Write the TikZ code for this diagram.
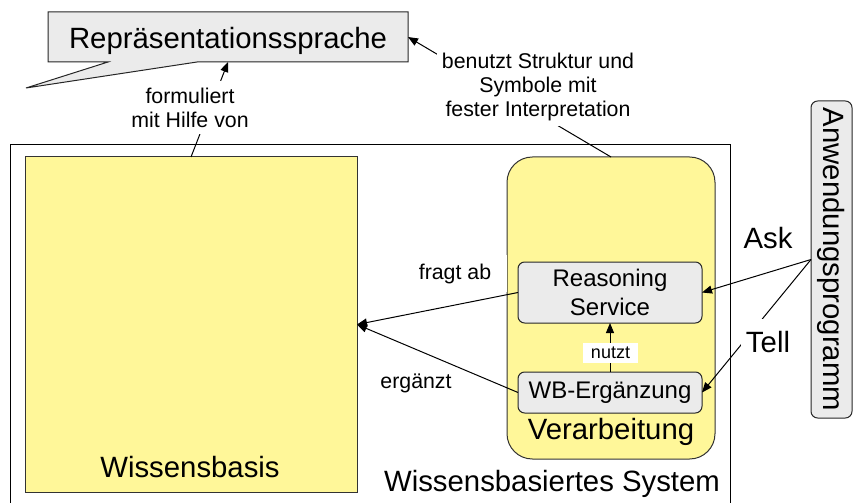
\documentclass[tikz,border=0pt]{standalone}
\usepackage{fontspec}
\setmainfont{Liberation Sans}
\usetikzlibrary{arrows.meta}
\definecolor{paleyellow}{RGB}{255,247,153}
\definecolor{boxgray}{RGB}{235,235,235}

\begin{document}
\begin{tikzpicture}[x=0.75pt,y=-0.75pt,
  every node/.style={inner sep=0pt,outer sep=0pt},
  arr/.style={-{Triangle[length=7.5pt,width=6pt]}, line width=0.75pt},
  conn/.style={line width=0.75pt},
  big/.style={font=\fontsize{22}{26}\selectfont},
  mid/.style={font=\fontsize{18}{22}\selectfont, align=center},
  small/.style={font=\fontsize{16}{18}\selectfont, align=center},
  tiny/.style={font=\fontsize{13.5}{15}\selectfont},
  tag/.style={fill=white},
  yellowbox/.style={draw=black!80, fill=paleyellow, line width=0.75pt},
  graybox/.style={draw=black!85, fill=boxgray, line width=0.75pt, rounded corners=5pt}
]
\path[use as bounding box] (0,0) rectangle (854,503);
\clip (0,0) rectangle (854,503);

% speech-bubble for the representation language
\coordinate (tip) at (26,88);
\path[fill=boxgray, draw=black!85, line width=0.75pt]
  (48,12) -- (408,12) -- (408,62) -- (197,62) -- (tip) -- (108,62) -- (48,62) -- cycle;
\node[big, minimum width=270pt, minimum height=37.5pt] (rep) at (228,37) {};
\node[big, anchor=base] (reptext) at (228,49) {Repräsentationssprache};

% knowledge-based system frame (open towards the bottom)
\draw[conn] (10,520) -- (10,145) -- (730,145) -- (730,520);

% knowledge base
\node[yellowbox, minimum width=249pt, minimum height=251.25pt] (wbase) at (191,324.5) {};
\node[big] (wbaselabel) at (190,467) {Wissensbasis};

% processing unit
\node[yellowbox, rounded corners=19pt, minimum width=156pt, minimum height=226.5pt] (verarb) at (611,308) {};
\node[big] (verarblabel) at (611,432) {Verarbeitung};

\node[graybox, mid, minimum width=138pt, minimum height=45.75pt] (rsvc) at (610,292.5) {Reasoning\\Service};
\node[graybox, mid, minimum width=138pt, minimum height=30.75pt] (wberg) at (610,392.5) {WB-Ergänzung};

% application program
\node[graybox, big, minimum width=30.75pt, minimum height=237.75pt] (ap) at (831.5,259.5) {\rotatebox{-90}{Anwendungsprogramm}};

\node[big] (syslabel) at (552,484) {Wissensbasiertes System};

% label that sits over the border of the processing unit
\node[small, tag, minimum width=78pt, minimum height=27.75pt] (fragt) at (455,273.5) {fragt ab};

% connectors
\draw[arr] (rsvc.west) -- (wbase.east);
\draw[arr] (wberg.west) -- (wbase.east);
\draw[arr] (wberg.north) -- (rsvc.south);
\draw[arr] (wbase.north) -- (rep.south);
\draw[arr] (verarb.north) -- (rep.east);
\draw[arr] (ap.west) -- (rsvc.east);
\draw[arr] (ap.west) -- (wberg.east);

% connector labels
\node[small] (erg) at (416,383) {ergänzt};
\node[tiny, tag, minimum width=41.25pt, minimum height=15pt] (nutzt) at (610.5,353) {nutzt};
\node[small, tag, inner xsep=4pt, inner ysep=5pt] (formuliert) at (190,108) {formuliert\\mit Hilfe von};
\node[small, tag, inner xsep=4pt, inner ysep=4pt] (benutzt) at (538,87) {benutzt Struktur und\\Symbole mit\\fester Interpretation};
\node[big] (ask) at (768,238) {Ask};
\node[big, tag, inner xsep=3.5pt, inner ysep=9pt] (tell) at (768,342) {Tell};
\end{tikzpicture}
\end{document}
